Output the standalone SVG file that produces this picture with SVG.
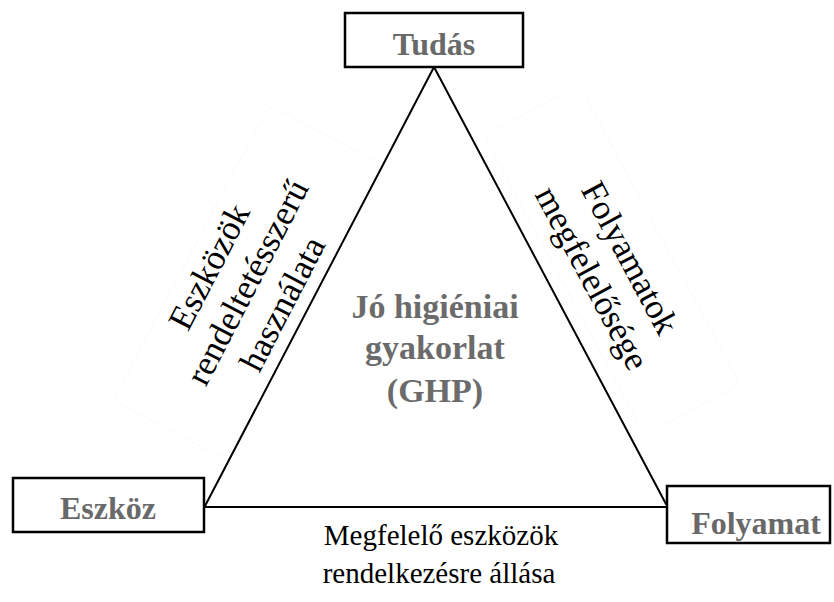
<svg xmlns="http://www.w3.org/2000/svg" width="834" height="602" viewBox="0 0 834 602">
<style>
.box{fill:#fff;stroke:#000;stroke-width:2.5}
.lbl{font-family:"Liberation Serif",serif;font-weight:bold;font-size:32px;fill:#696969;text-anchor:middle}
.mid{font-family:"Liberation Serif",serif;font-weight:bold;font-size:34px;fill:#6b6b6b;text-anchor:middle}
.side{font-family:"Liberation Serif",serif;font-size:35px;fill:#000;text-anchor:middle}
.bot{font-family:"Liberation Serif",serif;font-size:29px;fill:#000;text-anchor:middle}
.edge{stroke:#000;stroke-width:2;fill:none;stroke-linecap:round}
.frame{fill:none;stroke:#efefef;stroke-width:1;stroke-dasharray:1 2}
</style>
<rect width="834" height="602" fill="#fff"/>
<g id="connectors">
<line class="edge" x1="434" y1="67" x2="205" y2="506"/>
<line class="edge" x1="434" y1="67" x2="666" y2="504"/>
<line class="edge" x1="205" y1="507" x2="667" y2="507"/>
</g>
<g id="frame-left" transform="translate(247,282) rotate(-62.1)">
<rect class="frame" x="-167" y="-63" width="334" height="126" rx="8"/>
</g>
<g id="frame-right" transform="translate(612,260) rotate(61.8)">
<rect class="frame" x="-170" y="-54" width="340" height="108" rx="8"/>
</g>
<g id="node-tudas">
<rect class="box" x="345" y="13" width="178" height="54"/>
<text class="lbl" x="434" y="55">Tudás</text>
</g>
<g id="node-eszkoz">
<rect class="box" x="13" y="478" width="191" height="54"/>
<text class="lbl" x="108" y="519">Eszköz</text>
</g>
<g id="node-folyamat">
<rect class="box" x="667" y="486" width="163" height="57"/>
<text class="lbl" x="756" y="534">Folyamat</text>
</g>
<g id="center-text">
<text class="mid" x="435" y="318">Jó higiéniai</text>
<text class="mid" x="435" y="359">gyakorlat</text>
<text class="mid" x="435" y="402">(GHP)</text>
</g>
<g id="label-left" transform="translate(247,282) rotate(-62.6)">
<text class="side" x="-4" y="-29">Eszközök</text>
<text class="side" x="0" y="12">rendeltetésszerű</text>
<text class="side" x="-3" y="53">használata</text>
</g>
<g id="label-right" transform="translate(611,268) rotate(61.8)">
<text class="side" x="0" y="-10">Folyamatok</text>
<text class="side" x="0" y="33">megfelelősége</text>
</g>
<g id="label-bottom">
<text class="bot" x="441" y="545">Megfelelő eszközök</text>
<text class="bot" x="439" y="583">rendelkezésre állása</text>
</g>
</svg>
